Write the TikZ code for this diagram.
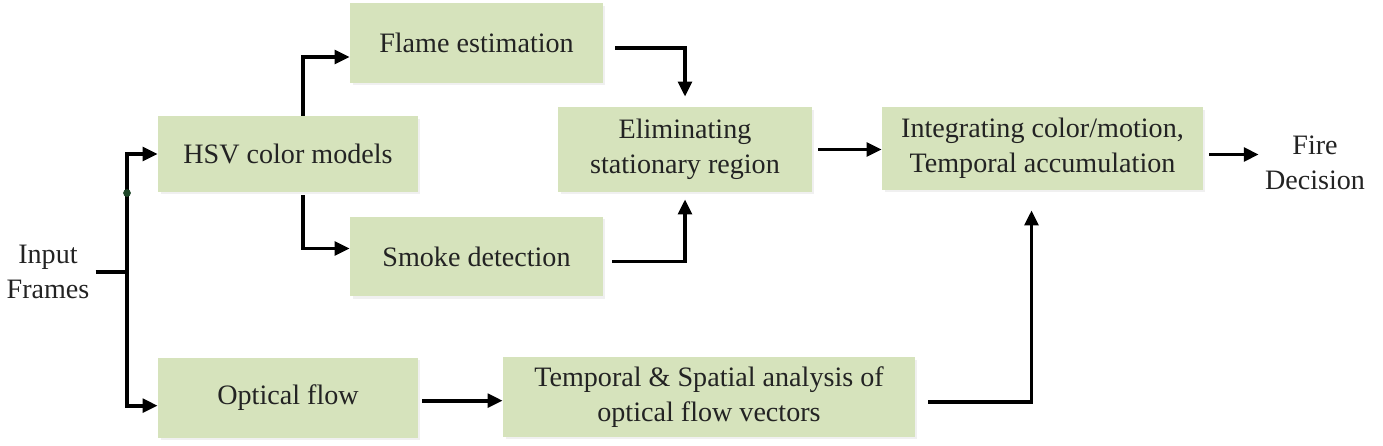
\documentclass[tikz,border=0pt]{standalone}
\usepackage{fontspec}
\setmainfont{Liberation Serif}
\usetikzlibrary{positioning, arrows.meta, calc, shadows}

\definecolor{boxgreen}{RGB}{214,227,188}
\definecolor{dotgreen}{RGB}{30,70,40}
\definecolor{inkgray}{RGB}{35,35,35}

\begin{document}
\begin{tikzpicture}[
	x=0.02cm, y=-0.02cm, % one unit = one pixel of the layout
	>={Triangle[length=0.3cm, width=0.27cm]},
	% Style for Boxes
	stage/.style={
		rectangle,
		fill=boxgreen,
		draw=none,
		minimum height=1.6cm,
		align=center,
		text=inkgray,
		font=\fontsize{16}{20}\selectfont,
		drop shadow={shadow xshift=0.05cm, shadow yshift=-0.05cm, opacity=0.12}
	},
	% Style for free text
	caption/.style={align=center, text=inkgray, font=\fontsize{16}{20}\selectfont},
	% Arrow Styles
	flow/.style={->, line width=2.2pt},
	link/.style={line width=2.2pt}
	]
	
	\useasboundingbox (0,0) rectangle (1383,446);
	
	% --- INPUT ---
	\node[caption] (inp) at (48,272) {Input\\Frames};
	
	% --- COLOUR BRANCH ---
	\node[stage, minimum width=5.2cm, minimum height=1.52cm] (hsv) at (288,154) {HSV color models};
	\node[stage, minimum width=5.06cm] (flame) at (476.5,43) {Flame estimation};
	\node[stage, minimum width=5.06cm] (smoke) at (476.5,256.5) {Smoke detection};
	\node[stage, minimum width=5.08cm, minimum height=1.7cm] (elim) at (685,149.5) {Eliminating\\stationary region};
	
	% --- MOTION BRANCH ---
	\node[stage, minimum width=5.2cm, below=3.3cm of hsv] (opt) {Optical flow};
	\node[stage, minimum width=8.24cm] (temp) at (709,397) {Temporal \& Spatial analysis of\\optical flow vectors};
	
	% --- FUSION ---
	\node[stage, minimum width=6.42cm, minimum height=1.66cm] (integ) at (1042.5,148.5) {Integrating color/motion,\\Temporal accumulation};
	\node[caption] (fire) at (1315,163) {Fire\\Decision};
	
	% --- CONNECTIONS ---
	
	% Split of the input
	\coordinate (jn) at (127,275);
	\draw[link] (inp.east) -- (inp.east -| jn);
	\draw[flow] (jn) |- (hsv.west);
	\draw[flow] (jn) |- ($(opt.west)+(0,8)$);
	\fill[dotgreen] ($(jn)+(0,-82)$) circle (2.2pt);
	
	% Colour models to flame / smoke
	\draw[flow] ($(hsv.north)+(15,0)$) |- ($(flame.west)+(0,14)$);
	\draw[flow] ($(hsv.south)+(15,3)$) |- ($(smoke.west)+(0,-8)$);
	
	% Flame / smoke to stationary check
	\draw[flow] ($(flame.east)+(12,5)$) -| ($(elim.north)+(0,-10)$);
	\draw[flow] ($(smoke.east)+(9,5)$) -| ($(elim.south)+(0,7)$);
	
	% Into the fusion box
	\draw[flow, shorten <=0.12cm] (elim.east) -- (elim.east -| integ.west);
	\coordinate (oe) at ($(opt.east)+(4,3)$);
	\draw[flow] (oe) -- (oe -| temp.west);
	\draw[flow] ($(temp.east)+(13,5)$) -| ($(integ.south)+(-11,20)$);
	
	% Decision
	\coordinate (ie) at ($(integ.east)+(6,6)$);
	\draw[flow] (ie) -- (ie -| fire.west);
	
\end{tikzpicture}
\end{document}
